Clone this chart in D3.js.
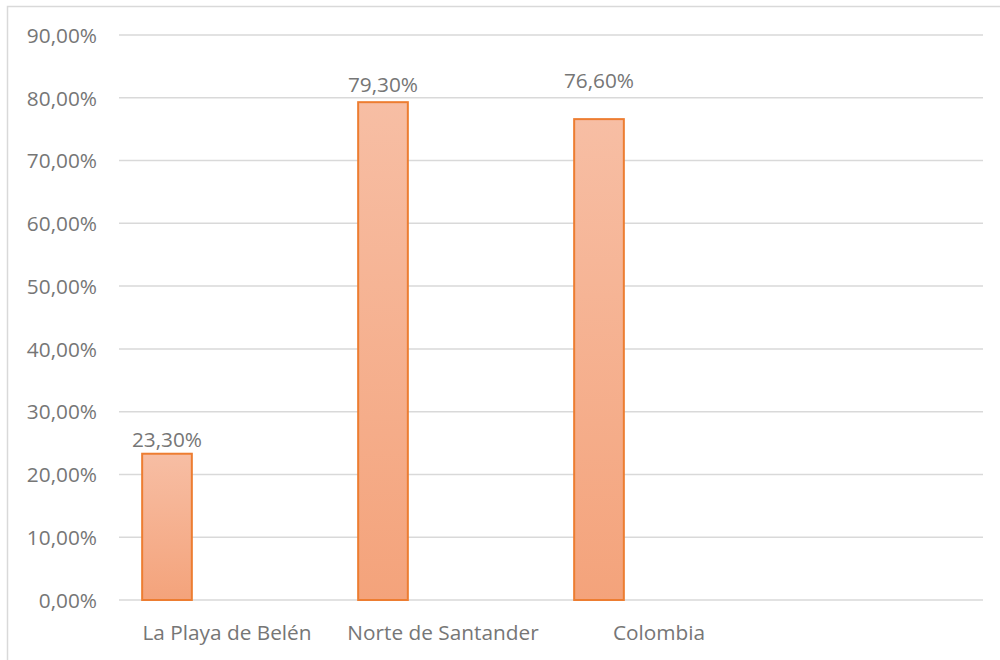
<!DOCTYPE html>
<html>
<head>
<meta charset="utf-8">
<script src="https://cdn.jsdelivr.net/npm/d3@7"></script>
<style>
  body { margin: 0; background: #fff; }
  text { font-family: "Open Sans", sans-serif; fill: #767676; }
</style>
</head>
<body>
<svg id="chart" width="1000" height="660"></svg>
<script>
// categories (4th slot is empty in the source chart)
var categories = ["La Playa de Belén", "Norte de Santander", "Colombia", ""];
var values = [0.233, 0.793, 0.766];
var valueLabels = ["23,30%", "79,30%", "76,60%"];
var yTicks = [0, 0.1, 0.2, 0.3, 0.4, 0.5, 0.6, 0.7, 0.8, 0.9];

var svg = d3.select("#chart");
var plotLeft = 119, plotRight = 983, plotTop = 35, plotBottom = 600;
var fontSize = "20.8px";

// outer frame (only top + left visible in the picture)
svg.append("path")
    .attr("d", "M7.5,660 V6.5 H1000")
    .attr("fill", "none")
    .attr("stroke", "#d9d9d9")
    .attr("stroke-width", 1.5);

var x = d3.scaleBand()
    .domain(d3.range(categories.length))
    .range([plotLeft, plotRight]);

var y = d3.scaleLinear()
    .domain([0, 0.9])
    .range([plotBottom, plotTop]);

var fmt = function (v) { return (v * 100).toFixed(2).replace(".", ",") + "%"; };

// gridlines
svg.append("g").selectAll("line")
    .data(yTicks)
    .enter().append("line")
    .attr("x1", plotLeft).attr("x2", plotRight)
    .attr("y1", function (d) { return y(d); })
    .attr("y2", function (d) { return y(d); })
    .attr("stroke", "#d9d9d9")
    .attr("stroke-width", 1.5);

// y axis labels
var yAxis = d3.axisLeft(y).tickValues(yTicks).tickFormat(fmt).tickSize(0).tickPadding(22);
var ya = svg.append("g").attr("transform", "translate(" + plotLeft + ",0)").call(yAxis);
ya.select(".domain").remove();
ya.selectAll("text")
    .style("font-family", "Open Sans")
    .style("font-size", fontSize)
    .attr("fill", "#767676")
    .attr("dy", "0.35em");

// gradient for bars
var grad = svg.append("defs").append("linearGradient")
    .attr("id", "barGrad")
    .attr("x1", 0).attr("y1", 0).attr("x2", 0).attr("y2", 1);
grad.append("stop").attr("offset", "0%").attr("stop-color", "#f7bea4");
grad.append("stop").attr("offset", "100%").attr("stop-color", "#f4a37b");

var bw = x.bandwidth() * 0.23;
var bOff = x.bandwidth() * 0.5 - 60 - bw / 2;

svg.append("g").selectAll("rect")
    .data(values)
    .enter().append("rect")
    .attr("x", function (d, i) { return x(i) + bOff; })
    .attr("y", function (d) { return y(d); })
    .attr("width", bw)
    .attr("height", function (d) { return plotBottom - y(d); })
    .attr("fill", "url(#barGrad)")
    .attr("stroke", "#ed7d31")
    .attr("stroke-width", 2);

// data labels (the Colombia one sits higher in the original)
var lift = [7, 10, 31];
svg.append("g").selectAll("text")
    .data(values)
    .enter().append("text")
    .attr("x", function (d, i) { return x(i) + bOff + bw / 2; })
    .attr("y", function (d, i) { return y(d) - lift[i]; })
    .attr("text-anchor", "middle")
    .style("font-size", fontSize)
    .text(function (d, i) { return valueLabels[i]; });

// category labels
svg.append("g").selectAll("text")
    .data(categories)
    .enter().append("text")
    .attr("x", function (d, i) { return x(i) + x.bandwidth() / 2; })
    .attr("y", 640)
    .attr("text-anchor", "middle")
    .style("font-size", fontSize)
    .text(function (d) { return d; });
</script>
</body>
</html>
